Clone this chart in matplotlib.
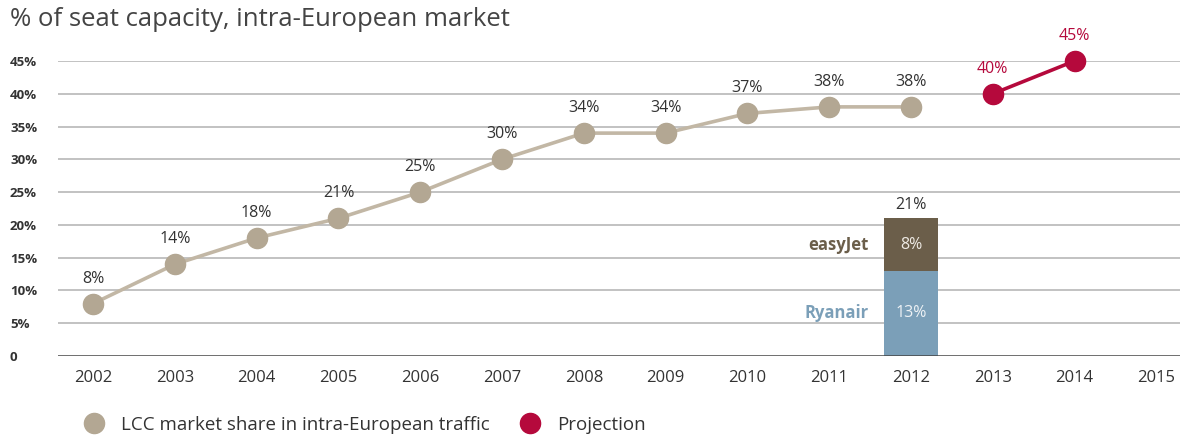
import matplotlib
matplotlib.use("Agg")
import matplotlib.pyplot as plt
from matplotlib.lines import Line2D

plt.rcParams['font.family'] = ['Open Sans', 'DejaVu Sans']

years = [2002, 2003, 2004, 2005, 2006, 2007, 2008, 2009, 2010, 2011, 2012]
lcc_share = [8, 14, 18, 21, 25, 30, 34, 34, 37, 38, 38]
proj_years = [2013, 2014]
proj_share = [40, 45]
bar_year = 2012
ryanair = 13
easyjet = 8
xtick_years = list(range(2002, 2016))
yticks = [0, 5, 10, 15, 20, 25, 30, 35, 40, 45]
ytick_labels = ['0', '5%', '10%', '15%', '20%', '25%', '30%', '35%', '40%', '45%']

beige = '#b3a793'
red = '#b5093c'
brown = '#6b5e4a'
blue = '#7b9fb8'
text_c = '#333333'

fig = plt.figure(figsize=(11.8, 4.36), dpi=100)
ax = fig.add_axes([58/1180, 1-356/436, 1-58/1180, (356-61)/436])
ax.set_xlim(2001.57, 2015.29)
ax.set_ylim(0, 45)

for y in yticks[1:]:
    ax.axhline(y, color='#bdbdbd', lw=1.3, zorder=0)
ax.axhline(0, color='#444444', lw=1.8, zorder=4)

# stacked bar
ax.bar(bar_year, ryanair, width=0.67, color=blue, zorder=2)
ax.bar(bar_year, easyjet, bottom=ryanair, width=0.67, color=brown, zorder=2)
ax.text(bar_year, ryanair/2, f'{ryanair}%', ha='center', va='center', color='#eef2f5', fontsize=11.5, zorder=3)
ax.text(bar_year, ryanair + easyjet/2, f'{easyjet}%', ha='center', va='center', color='#eeeae4', fontsize=11.5, zorder=3)
ax.text(bar_year, ryanair + easyjet + 0.8, f'{ryanair+easyjet}%', ha='center', va='bottom', color=text_c, fontsize=11.5, zorder=3)
ax.text(bar_year - 0.52, ryanair + easyjet/2, 'easyJet', ha='right', va='center', color=brown, fontsize=12, fontweight='bold')
ax.text(bar_year - 0.52, ryanair/2, 'Ryanair', ha='right', va='center', color=blue, fontsize=12, fontweight='bold')

# lines
ax.plot(years, lcc_share, color='#c2b7a5', lw=2.6, zorder=5, clip_on=False)
ax.plot(years, lcc_share, 'o', color=beige, ms=14.5, zorder=6, clip_on=False)
for x, v in zip(years, lcc_share):
    ax.text(x, v + 2.6, f'{v}%', ha='center', va='bottom', color=text_c, fontsize=11.5, zorder=7)
ax.plot(proj_years, proj_share, color=red, lw=2.6, zorder=5, clip_on=False)
ax.plot(proj_years, proj_share, 'o', color=red, ms=14.5, zorder=6, clip_on=False)
for x, v in zip(proj_years, proj_share):
    ax.text(x, v + 2.6, f'{v}%', ha='center', va='bottom', color=red, fontsize=11.5, zorder=7)

ax.set_xticks(xtick_years)
ax.set_xticklabels([str(y) for y in xtick_years], fontsize=12, color=text_c)
ax.set_yticks(yticks)
ax.set_yticklabels(ytick_labels, fontsize=9.5, color=text_c, fontweight='bold')
ax.tick_params(axis='both', length=0)
ax.tick_params(axis='x', pad=10)
ax.tick_params(axis='y', pad=48*0.72)
for lab in ax.get_yticklabels():
    lab.set_horizontalalignment('left')
for s in ax.spines.values():
    s.set_visible(False)

fig.text(10/1180, 1-20/436, '% of seat capacity, intra-European market', fontsize=18.5, color='#444444', va='center', ha='left')

handles = [Line2D([], [], marker='o', ls='', color=beige, ms=14.5),
           Line2D([], [], marker='o', ls='', color=red, ms=14.5)]
fig.legend(handles, ['LCC market share in intra-European traffic', 'Projection'],
           loc='center left', bbox_to_anchor=(58/1180, 1-425/436), ncol=2, frameon=False,
           fontsize=13.5, handletextpad=0.45, columnspacing=1.15, labelcolor=text_c)

fig.savefig('out.png', dpi=100)
